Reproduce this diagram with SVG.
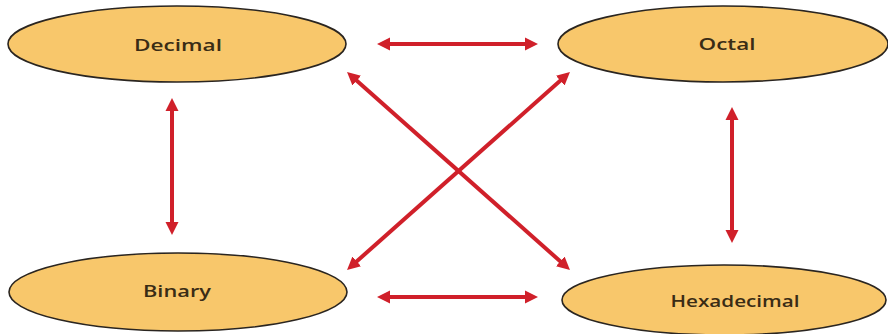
<svg xmlns="http://www.w3.org/2000/svg" width="888" height="334" viewBox="0 0 888 334">
<style>
.node ellipse{fill:#f8c76b;stroke:#2a2520;stroke-width:1.6}
.node text{font-family:"Open Sans","Liberation Sans",sans-serif;font-size:17px;font-weight:600;fill:#3a2c15;text-anchor:middle}
.conn line{stroke:#d0202a;stroke-width:4;fill:none}
</style>
<defs>
<marker id="ah" markerUnits="userSpaceOnUse" markerWidth="14" markerHeight="14" viewBox="0 -7 14 14" refX="1" refY="0" orient="auto-start-reverse">
<path d="M0,-6.5 L13,0 L0,6.5 z" fill="#d0202a"/>
</marker>
</defs>
<rect width="888" height="334" fill="#ffffff"/>
<g class="conn">
<line x1="389" y1="44" x2="526" y2="44" marker-start="url(#ah)" marker-end="url(#ah)"/>
<line x1="389" y1="297" x2="526" y2="297" marker-start="url(#ah)" marker-end="url(#ah)"/>
<line x1="172" y1="110" x2="172" y2="223" marker-start="url(#ah)" marker-end="url(#ah)"/>
<line x1="732" y1="119" x2="732" y2="231" marker-start="url(#ah)" marker-end="url(#ah)"/>
<line x1="356" y1="80" x2="561" y2="262" marker-start="url(#ah)" marker-end="url(#ah)"/>
<line x1="561" y1="80" x2="356" y2="262" marker-start="url(#ah)" marker-end="url(#ah)"/>
</g>
<g id="decimal" class="node">
<ellipse cx="177" cy="44" rx="169" ry="38"/>
<text x="178" y="51" textLength="88" lengthAdjust="spacingAndGlyphs">Decimal</text>
</g>
<g id="octal" class="node">
<ellipse cx="723" cy="44" rx="165" ry="38"/>
<text x="727" y="50" textLength="57" lengthAdjust="spacingAndGlyphs">Octal</text>
</g>
<g id="binary" class="node">
<ellipse cx="178" cy="292" rx="169" ry="39"/>
<text x="177" y="297" textLength="68" lengthAdjust="spacingAndGlyphs">Binary</text>
</g>
<g id="hexadecimal" class="node">
<ellipse cx="724" cy="300" rx="162" ry="35"/>
<text x="735" y="307" textLength="129" lengthAdjust="spacingAndGlyphs">Hexadecimal</text>
</g>
</svg>
